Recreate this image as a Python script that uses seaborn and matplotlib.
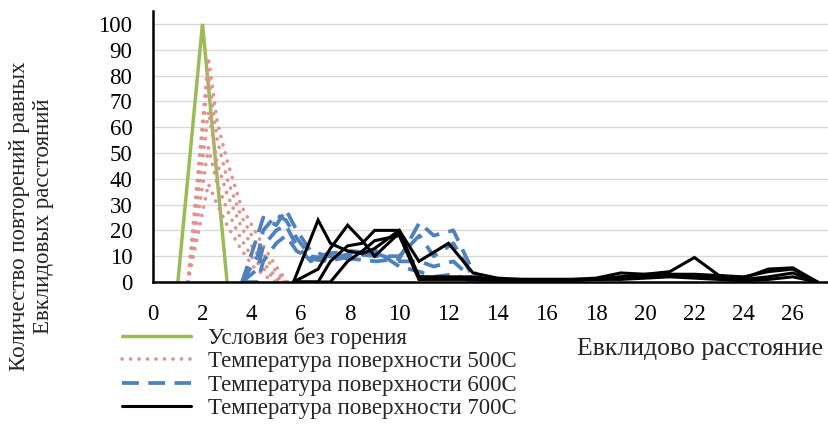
import numpy as np
import pandas as pd
import matplotlib.pyplot as plt
import seaborn as sns
from matplotlib.lines import Line2D

# Условия без горения
x_cold = [1, 2, 3]
y_cold = [[0, 100, 0]]

# Температура поверхности 500C
x_500 = [1.41, 2.24, 2.6, 3.0, 3.55, 4.06, 4.6, 5.0, 5.45]
y_500 = [[0, 87, 62, 47, 30, 21, 12, 6, 0],
         [0, 80, 55, 40, 26, 17, 9, 4, 0],
         [0, 66, 46, 34, 22, 13, 6, 2, 0],
         [0, 52, 38, 28, 17, 9, 4, 1, 0],
         [0, 38, 30, 22, 13, 6, 2, 0, 0]]

# Температура поверхности 600C
x_600 = [3.61, 4.24, 4.47, 5.0, 5.39, 5.83, 6.4, 7.07, 8.06, 9.06, 10.0, 10.82, 11.4, 12.2, 13.0, 13.6]
y_600 = [[0, 18, 25, 22, 28, 20, 12, 10, 9, 8, 9, 23, 18, 20, 4, 0],
         [0, 10, 20, 26, 24, 17, 10, 9, 11, 10, 10, 18, 10, 15, 2, 0],
         [0, 5, 14, 20, 22, 14, 8, 11, 12, 11, 8, 8, 6, 8, 1, 0],
         [0, 0, 8, 15, 18, 12, 9, 8, 10, 12, 6, 4, 2, 3, 0, 0]]

# Температура поверхности 700C
x_700 = [5.7, 6.7, 7.2, 7.9, 8.5, 9.0, 10.0, 10.8, 12.0, 13.0, 14, 15, 16, 17, 18, 19, 20, 21, 22, 23, 24, 25, 26, 27]
y_700 = [[0, 24, 15, 12, 11, 13, 20, 8, 15, 3.5, 1.5, 1, 1, 1, 1.5, 3.5, 3, 4, 9.5, 2.5, 1.5, 5, 5.5, 0],
         [0, 5, 13, 22, 16, 10, 19, 2, 2, 2, 1, 1, 1, 1, 1, 2, 3, 3, 3, 2.5, 2, 4, 5, 0],
         [0, 0, 8, 14, 15, 20, 20, 2, 1.5, 1.5, 1, 1, 1, 1, 1, 2, 2, 3, 2, 2, 1, 2, 3.5, 0],
         [0, 0, 0, 8, 12, 16, 18, 1, 1, 1, 0.5, 0.5, 0.5, 0.5, 1, 1, 1.5, 2, 1.5, 1, 0.5, 1, 2, 0]]

labels = ['Условия без горения', 'Температура поверхности 500С',
          'Температура поверхности 600С', 'Температура поверхности 700С']
colors = ['#9BBB59', '#E0928F', '#4F81BD', '#000000']


def to_long(xs, curves):
    rows = []
    for i, ys in enumerate(curves):
        for xv, yv in zip(xs, ys):
            rows.append((i, xv, yv))
    return pd.DataFrame(rows, columns=['curve', 'x', 'y'])


sns.set_style('white')
plt.rcParams['font.family'] = ['Liberation Serif', 'DejaVu Serif']
fs = 16.5

fig = plt.figure(figsize=(8.29, 4.24), dpi=100)
ax = fig.add_axes([0.1849, 0.3349, 0.8139, 0.6392])

styles = [dict(lw=2.5, ls='-', cap='butt'),
          dict(lw=2.6, ls=(0, (0.05, 2.3)), cap='round'),
          dict(lw=2.7, ls=(0, (4.5, 2.5)), cap='butt'),
          dict(lw=2.2, ls='-', cap='butt')]

data = [(x_cold, y_cold), (x_500, y_500), (x_600, y_600), (x_700, y_700)]
for (xs, ys), c, st in zip(data, colors, styles):
    n0 = len(ax.get_lines())
    sns.lineplot(data=to_long(xs, ys), x='x', y='y', units='curve', estimator=None,
                 color=c, lw=st['lw'], ax=ax, legend=False)
    for ln in ax.get_lines()[n0:]:
        ln.set_linestyle(st['ls'])
        ln.set_dash_capstyle(st['cap'])
        ln.set_solid_joinstyle('miter')

ax.set_xlim(0, 27.43)
ax.set_ylim(0, 105)
ax.set_xticks(np.arange(0, 28, 1))
ax.set_xticklabels([str(v) if v % 2 == 0 else '' for v in range(28)])
ax.set_yticks(np.arange(0, 101, 10))
ax.grid(axis='y', color='#D9D9D9', lw=1)
ax.grid(axis='x', visible=False)
ax.set_axisbelow(True)
for s in ['top', 'right']:
    ax.spines[s].set_visible(False)
for s in ['left', 'bottom']:
    ax.spines[s].set_color('black')
    ax.spines[s].set_linewidth(1.8)
ax.tick_params(axis='y', direction='in', length=6.5, width=1.5, pad=15, labelsize=fs, colors='black')
ax.tick_params(axis='x', direction='inout', length=8, width=1.5, pad=12, labelsize=fs, colors='black')
ax.set_xlabel('')
ax.set_ylabel('')

fig.text(0.038, 0.49, 'Количество повторений равных\nЕвклидовых расстояний',
         rotation=90, ha='center', va='center', fontsize=fs, linespacing=1.22)
fig.text(823 / 829, 1 - 349 / 424, 'Евклидово расстояние', ha='right', va='center', fontsize=18.5)

handles = []
for c, st in zip(colors, styles):
    h = Line2D([], [], color=c, lw=st['lw'], ls=st['ls'])
    h.set_dash_capstyle(st['cap'])
    handles.append(h)
fig.legend(handles, labels, loc='upper left', bbox_to_anchor=(122 / 829, 1 - 327 / 424),
           frameon=False, borderpad=0, handlelength=3.0, handletextpad=0.75,
           labelspacing=0.1, fontsize=fs, borderaxespad=0)

fig.savefig('out.png', dpi=100)
